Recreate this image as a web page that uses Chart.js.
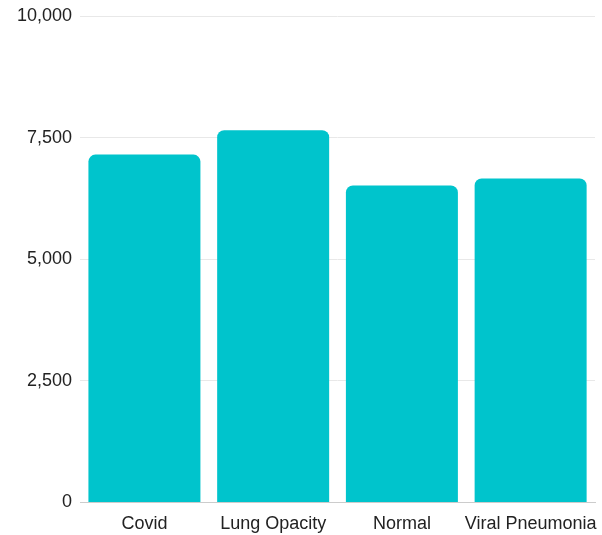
<!DOCTYPE html>
<html>
<head>
<meta charset="utf-8">
<script src="https://cdn.jsdelivr.net/npm/chart.js@4"></script>
<style>
  html, body { margin: 0; padding: 0; background: #fff; }
  #wrap { width: 602px; height: 535px; }
</style>
</head>
<body>
<div id="wrap"><canvas id="dataChart"></canvas></div>
<script>
// data
const categories = ['Covid', 'Lung Opacity', 'Normal', 'Viral Pneumonia'];
const imageCounts = [7150, 7650, 6515, 6660];
const yTicks = [0, 2500, 5000, 7500, 10000];

const ctx = document.getElementById('dataChart').getContext('2d');
const chart = new Chart(ctx, {
  type: 'bar',
  data: {
    labels: categories,
    datasets: [{
      label: 'Images',
      data: imageCounts,
      backgroundColor: '#00c4cc',
      borderRadius: { topLeft: 7, topRight: 7 },
      borderSkipped: 'bottom',
      categoryPercentage: 1,
      barPercentage: 0.87
    }]
  },
  options: {
    responsive: true,
    maintainAspectRatio: false,
    animation: false,
    layout: { padding: { left: 9, right: 7, top: 16, bottom: -11 } },
    plugins: {
      legend: { display: false },
      tooltip: { enabled: false }
    },
    scales: {
      x: {
        // let the long last label hang out past the plot edge
        afterFit: (axis) => { axis.paddingLeft = 0; axis.paddingRight = 0; },
        grid: { display: false, drawTicks: false },
        border: { display: true, color: '#cccccc', width: 1 },
        ticks: {
          color: '#222',
          font: { family: '"Liberation Sans", Arial, sans-serif', size: 18 },
          padding: 11,
          maxRotation: 0,
          autoSkip: false
        }
      },
      y: {
        min: yTicks[0],
        max: yTicks[yTicks.length - 1],
        afterBuildTicks: (axis) => { axis.ticks = yTicks.map(v => ({ value: v })); },
        afterFit: (axis) => { axis.paddingTop = 0; axis.paddingBottom = 0; },
        grid: { color: '#e8e8e8', drawTicks: false },
        border: { display: false },
        ticks: {
          color: '#222',
          font: { family: '"Liberation Sans", Arial, sans-serif', size: 18 },
          padding: 8,
          callback: (v) => v.toLocaleString('en-US')
        }
      }
    }
  }
});
</script>
</body>
</html>
